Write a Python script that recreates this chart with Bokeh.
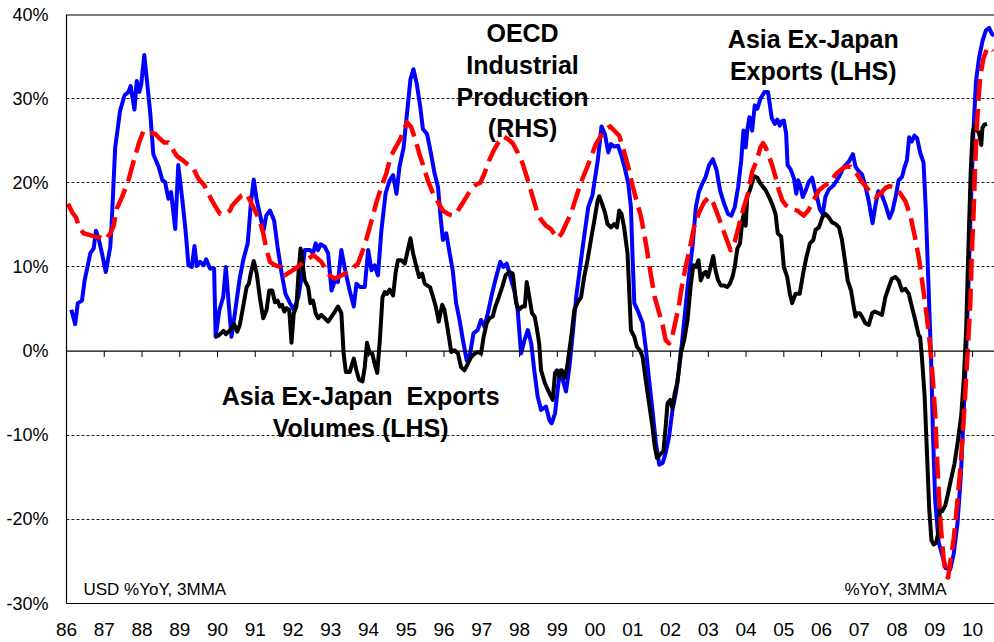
from bokeh.plotting import figure
from bokeh.models import Span, Label, FixedTicker, Range1d
from bokeh.embed import file_html
from bokeh.resources import INLINE

# ---- data (decimal year, % YoY 3MMA) ----
exp_year = [1986.13, 1986.23, 1986.30, 1986.41, 1986.48, 1986.63, 1986.72, 1986.78, 1986.85, 1986.94,
            1987.04, 1987.16, 1987.20, 1987.29, 1987.42, 1987.54, 1987.64, 1987.70, 1987.80, 1987.86,
            1987.93, 1987.98, 1988.06, 1988.15, 1988.22, 1988.30, 1988.44, 1988.54, 1988.61, 1988.70,
            1988.77, 1988.88, 1988.96, 1989.07, 1989.16, 1989.23, 1989.32, 1989.39, 1989.45, 1989.54,
            1989.63, 1989.70, 1989.80, 1989.91, 1989.95, 1990.05, 1990.15, 1990.22, 1990.29, 1990.37,
            1990.46, 1990.58, 1990.68, 1990.80, 1990.89, 1990.96, 1991.04, 1991.14, 1991.22, 1991.29,
            1991.39, 1991.50, 1991.59, 1991.70, 1991.80, 1991.92, 1992.02, 1992.14, 1992.24, 1992.31,
            1992.45, 1992.53, 1992.60, 1992.66, 1992.73, 1992.84, 1992.93, 1993.02, 1993.11, 1993.19,
            1993.28, 1993.40, 1993.50, 1993.61, 1993.68, 1993.78, 1993.90, 1993.99, 1994.08, 1994.16,
            1994.25, 1994.34, 1994.45, 1994.56, 1994.65, 1994.74, 1994.82, 1994.93, 1995.00, 1995.11,
            1995.19, 1995.28, 1995.37, 1995.44, 1995.55, 1995.64, 1995.75, 1995.84, 1995.90, 1995.97,
            1996.06, 1996.15, 1996.23, 1996.32, 1996.41, 1996.50, 1996.60, 1996.69, 1996.78, 1996.89,
            1996.98, 1997.07, 1997.16, 1997.27, 1997.38, 1997.49, 1997.57, 1997.66, 1997.78, 1997.86,
            1997.95, 1998.04, 1998.13, 1998.22, 1998.31, 1998.39, 1998.48, 1998.57, 1998.70, 1998.79,
            1998.85, 1998.94, 1999.01, 1999.07, 1999.14, 1999.23, 1999.32, 1999.41, 1999.50, 1999.58,
            1999.71, 1999.82, 1999.93, 2000.07, 2000.17, 2000.26, 2000.35, 2000.42, 2000.51, 2000.61,
            2000.70, 2000.79, 2000.88, 2000.95, 2000.99, 2001.04, 2001.14, 2001.26, 2001.35, 2001.43,
            2001.52, 2001.61, 2001.70, 2001.79, 2001.87, 2001.96, 2002.05, 2002.14, 2002.23, 2002.31,
            2002.45, 2002.58, 2002.67, 2002.75, 2002.84, 2002.93, 2003.02, 2003.12, 2003.22, 2003.31,
            2003.42, 2003.52, 2003.61, 2003.70, 2003.79, 2003.87, 2003.93, 2003.99, 2004.03, 2004.09,
            2004.16, 2004.23, 2004.30, 2004.38, 2004.49, 2004.58, 2004.68, 2004.76, 2004.83, 2004.89,
            2004.94, 2005.00, 2005.06, 2005.10, 2005.18, 2005.27, 2005.33, 2005.38, 2005.44, 2005.50,
            2005.57, 2005.66, 2005.75, 2005.82, 2005.88, 2005.95, 2006.03, 2006.10, 2006.19, 2006.32,
            2006.46, 2006.59, 2006.72, 2006.83, 2006.90, 2006.98, 2007.07, 2007.16, 2007.25, 2007.35,
            2007.43, 2007.50, 2007.58, 2007.69, 2007.80, 2007.88, 2007.97, 2008.04, 2008.13, 2008.20,
            2008.26, 2008.32, 2008.39, 2008.46, 2008.53, 2008.61, 2008.70, 2008.76, 2008.83, 2008.90,
            2008.95, 2009.01, 2009.10, 2009.21, 2009.29, 2009.41, 2009.50, 2009.60, 2009.69, 2009.76,
            2009.83, 2009.89, 2009.95, 2010.02, 2010.09, 2010.17, 2010.26, 2010.35, 2010.44, 2010.51,
            2010.57]
exp_val = [4.9, 3.2, 5.7, 6.0, 8.4, 11.6, 12.2, 14.3, 13.4, 11.6,
           9.4, 12.4, 15.5, 24.2, 28.6, 30.4, 30.8, 31.5, 28.7, 32.1,
           30.8, 31.7, 35.2, 31.3, 28.2, 23.4, 21.9, 20.3, 20.1, 18.1,
           18.9, 14.5, 22.1, 17.9, 14.0, 10.2, 10.0, 12.5, 10.1, 10.6,
           10.2, 10.9, 9.8, 9.8, 1.7, 4.9, 6.4, 10.0, 6.0, 1.7,
           4.5, 8.4, 10.8, 12.8, 17.9, 20.4, 17.9, 15.9, 14.3, 16.1,
           16.7, 15.5, 12.4, 9.2, 6.8, 5.7, 4.9, 6.4, 9.2, 12.0,
           12.0, 11.6, 12.8, 12.0, 12.7, 12.4, 11.6, 7.2, 8.4, 8.2,
           12.0, 9.2, 7.2, 5.3, 8.0, 7.6, 7.6, 12.0, 9.6, 10.2,
           9.0, 14.3, 18.7, 20.3, 20.9, 18.7, 21.9, 24.2, 27.4, 32.3,
           33.5, 31.7, 29.0, 26.4, 25.8, 23.8, 21.1, 19.5, 16.3, 13.2,
           14.0, 11.6, 9.6, 5.7, 3.7, 1.3, -1.1, -0.3, 2.1, 2.5,
           3.7, 2.9, 4.5, 6.8, 8.8, 10.6, 10.0, 10.4, 8.4, 7.2,
           4.9, -0.3, 1.3, 2.5, 0.9, -2.3, -5.4, -7.0, -6.6, -8.2,
           -8.6, -7.4, -4.6, -2.3, -3.4, -4.8, -1.9, 2.1, 6.4, 9.2,
           13.6, 17.1, 18.5, 22.6, 26.7, 25.8, 23.6, 24.6, 24.3, 24.4,
           23.2, 21.7, 19.9, 17.1, 11.6, 5.7, 4.7, 3.3, 0.1, -3.4,
           -7.0, -10.9, -13.5, -13.3, -12.1, -10.2, -7.0, -5.0, -1.9, 1.3,
           7.6, 12.4, 17.1, 18.9, 19.9, 20.7, 22.1, 22.8, 21.5, 19.1,
           17.5, 16.3, 16.1, 17.1, 19.5, 22.6, 26.2, 24.2, 26.2, 27.8,
           26.2, 29.2, 28.8, 30.0, 30.8, 30.8, 27.7, 27.0, 27.5, 26.8,
           27.3, 27.4, 25.9, 22.1, 21.6, 20.5, 18.7, 20.3, 19.6, 18.3,
           19.0, 20.1, 20.6, 19.2, 18.3, 16.9, 16.3, 18.3, 19.2, 19.7,
           20.7, 21.9, 22.5, 23.4, 21.9, 21.4, 21.0, 19.6, 17.8, 15.2,
           17.4, 19.0, 18.7, 17.4, 15.8, 16.7, 18.5, 20.3, 20.7, 21.9,
           22.7, 25.4, 24.9, 25.6, 25.3, 23.6, 22.4, 16.9, 8.0, -0.9,
           -9.8, -17.8, -22.7, -24.5, -25.8, -25.9, -24.1, -20.5, -14.7, -7.6,
           0.0, 8.0, 16.9, 25.9, 32.1, 34.8, 36.8, 38.1, 38.4, 37.7,
           37.5]

vol_year = [1989.93, 1990.02, 1990.09, 1990.16, 1990.22, 1990.29, 1990.37, 1990.44, 1990.52, 1990.59,
            1990.68, 1990.77, 1990.83, 1990.88, 1990.96, 1991.04, 1991.12, 1991.21, 1991.30, 1991.37,
            1991.45, 1991.52, 1991.59, 1991.65, 1991.71, 1991.77, 1991.83, 1991.90, 1991.96, 1992.02,
            1992.09, 1992.15, 1992.20, 1992.31, 1992.40, 1992.46, 1992.53, 1992.60, 1992.67, 1992.75,
            1992.84, 1992.93, 1993.02, 1993.11, 1993.19, 1993.28, 1993.34, 1993.40, 1993.50, 1993.61,
            1993.68, 1993.75, 1993.84, 1993.90, 1993.96, 1994.03, 1994.10, 1994.16, 1994.23, 1994.30,
            1994.37, 1994.43, 1994.49, 1994.56, 1994.65, 1994.72, 1994.78, 1994.87, 1994.96, 1995.02,
            1995.11, 1995.18, 1995.27, 1995.34, 1995.42, 1995.49, 1995.55, 1995.63, 1995.71, 1995.78,
            1995.86, 1995.95, 1996.01, 1996.10, 1996.19, 1996.28, 1996.37, 1996.45, 1996.54, 1996.63,
            1996.72, 1996.81, 1996.90, 1996.98, 1997.05, 1997.13, 1997.20, 1997.29, 1997.36, 1997.45,
            1997.54, 1997.63, 1997.73, 1997.82, 1997.91, 1997.98, 1998.07, 1998.14, 1998.19, 1998.26,
            1998.33, 1998.40, 1998.45, 1998.52, 1998.57, 1998.67, 1998.79, 1998.88, 1998.94, 1998.99,
            1999.05, 1999.12, 1999.19, 1999.26, 1999.32, 1999.38, 1999.45, 1999.54, 1999.63, 1999.71,
            1999.80, 1999.89, 1999.98, 2000.07, 2000.11, 2000.17, 2000.26, 2000.33, 2000.42, 2000.51,
            2000.58, 2000.64, 2000.70, 2000.77, 2000.86, 2000.90, 2000.95, 2001.04, 2001.11, 2001.19,
            2001.26, 2001.34, 2001.43, 2001.52, 2001.58, 2001.64, 2001.72, 2001.81, 2001.87, 2001.92,
            2001.99, 2002.05, 2002.11, 2002.18, 2002.27, 2002.36, 2002.45, 2002.53, 2002.60, 2002.67,
            2002.74, 2002.80, 2002.87, 2002.93, 2002.99, 2003.06, 2003.13, 2003.19, 2003.26, 2003.33,
            2003.42, 2003.50, 2003.57, 2003.64, 2003.70, 2003.77, 2003.84, 2003.90, 2003.94, 2003.99,
            2004.03, 2004.10, 2004.21, 2004.30, 2004.38, 2004.52, 2004.61, 2004.69, 2004.78, 2004.84,
            2004.93, 2005.00, 2005.09, 2005.16, 2005.22, 2005.31, 2005.42, 2005.51, 2005.60, 2005.69,
            2005.78, 2005.84, 2005.93, 2006.02, 2006.10, 2006.19, 2006.28, 2006.37, 2006.46, 2006.54,
            2006.63, 2006.69, 2006.78, 2006.85, 2006.90, 2006.94, 2007.01, 2007.07, 2007.16, 2007.25,
            2007.34, 2007.41, 2007.51, 2007.60, 2007.69, 2007.78, 2007.86, 2007.95, 2008.04, 2008.13,
            2008.22, 2008.31, 2008.39, 2008.48, 2008.57, 2008.61, 2008.66, 2008.73, 2008.79, 2008.85,
            2008.91, 2008.97, 2009.03, 2009.10, 2009.14, 2009.20, 2009.28, 2009.35, 2009.43, 2009.52,
            2009.61, 2009.70, 2009.77, 2009.83, 2009.89, 2009.95, 2010.00, 2010.05, 2010.11, 2010.17,
            2010.23, 2010.26, 2010.31, 2010.38]
vol_val = [1.7, 1.8, 2.1, 2.4, 2.0, 2.3, 2.7, 3.2, 2.3, 3.1,
           5.3, 7.6, 8.0, 9.2, 10.7, 9.2, 6.4, 3.9, 4.9, 7.2,
           7.2, 5.8, 6.0, 5.3, 5.5, 4.7, 5.1, 4.9, 1.0, 4.5,
           5.3, 9.6, 12.2, 8.4, 7.6, 5.7, 6.0, 4.5, 3.9, 4.3,
           3.9, 3.5, 4.1, 4.7, 5.3, 4.5, -0.3, -2.5, -2.5, -0.9,
           -2.3, -3.4, -3.6, -1.9, 1.0, -0.3, -0.3, -1.5, -2.6, 1.3,
           6.4, 7.0, 6.8, 7.3, 6.6, 9.4, 10.8, 10.8, 10.4, 11.6,
           13.4, 11.6, 10.0, 8.8, 9.2, 8.0, 7.8, 7.6, 6.4, 5.3,
           3.5, 5.5, 4.9, 2.5, -0.1, 0.1, -0.3, -1.9, -2.3, -1.5,
           -0.7, -0.3, -0.1, -0.3, 1.7, 3.3, 3.9, 4.1, 5.3, 6.4,
           7.6, 9.0, 9.4, 9.2, 5.7, 4.9, 5.3, 5.3, 8.2, 6.4,
           4.5, 4.1, 2.9, 0.9, -2.3, -3.8, -5.0, -5.8, -2.6, -2.3,
           -3.0, -2.3, -3.2, -1.9, 0.1, 2.1, 4.9, 5.8, 6.4, 8.8,
           10.8, 13.2, 15.5, 17.9, 18.4, 17.7, 16.5, 15.1, 14.7, 15.1,
           14.7, 16.7, 16.3, 14.7, 11.6, 7.6, 2.5, 1.7, 0.5, 0.1,
           -0.7, -3.4, -6.2, -9.0, -11.3, -12.7, -12.3, -11.9, -9.0, -6.2,
           -5.8, -6.8, -5.0, -3.8, -0.3, 1.3, 3.7, 7.6, 10.2, 10.0,
           10.8, 8.4, 9.2, 9.4, 8.8, 10.0, 11.3, 9.6, 8.4, 7.8,
           7.8, 7.6, 8.0, 8.8, 10.0, 12.2, 12.8, 15.5, 16.3, 14.9,
           18.3, 19.1, 20.8, 20.6, 19.9, 19.1, 18.3, 17.5, 16.3, 14.0,
           13.6, 10.0, 8.8, 6.8, 5.7, 6.8, 6.8, 9.2, 11.2, 12.8,
           13.2, 14.4, 14.7, 15.9, 16.3, 15.9, 15.3, 15.1, 14.7, 13.2,
           10.4, 8.4, 7.2, 5.3, 4.1, 4.5, 4.5, 4.1, 3.3, 3.1,
           4.5, 4.7, 4.5, 4.3, 6.4, 7.6, 8.6, 8.8, 8.4, 7.2,
           7.4, 6.8, 5.3, 3.7, 1.9, 1.7, -0.9, -5.4, -12.0, -18.7,
           -22.5, -23.0, -22.8, -21.4, -18.7, -19.0, -18.3, -16.9, -15.2, -13.4,
           -10.7, -7.6, -3.1, 2.7, 12.5, 21.4, 25.9, 26.8, 26.3, 25.9,
           24.5, 26.5, 26.9, 27.0]

oecd_year = [1986.04, 1986.15, 1986.25, 1986.34, 1986.45, 1986.76, 1986.89, 1987.03, 1987.16, 1987.25,
             1987.33, 1987.47, 1987.64, 1987.78, 1987.91, 1988.04, 1988.19, 1988.35, 1988.48, 1988.59,
             1988.70, 1988.81, 1988.92, 1989.10, 1989.23, 1989.36, 1989.49, 1989.65, 1989.85, 1989.98,
             1990.07, 1990.20, 1990.33, 1990.39, 1990.64, 1990.77, 1990.86, 1990.99, 1991.12, 1991.21,
             1991.30, 1991.39, 1991.52, 1991.65, 1991.78, 1992.06, 1992.23, 1992.54, 1992.75, 1992.97,
             1993.11, 1993.46, 1993.72, 1993.90, 1994.08, 1994.21, 1994.34, 1994.47, 1994.58, 1994.69,
             1994.82, 1994.93, 1995.02, 1995.13, 1995.25, 1995.35, 1995.46, 1995.57, 1995.71, 1995.84,
             1995.97, 1996.10, 1996.23, 1996.34, 1996.45, 1996.59, 1996.72, 1996.85, 1996.96, 1997.07,
             1997.19, 1997.31, 1997.44, 1997.57, 1997.69, 1997.82, 1997.95, 1998.08, 1998.22, 1998.35,
             1998.48, 1998.57, 1998.70, 1998.83, 1998.94, 1999.01, 1999.12, 1999.23, 1999.36, 1999.50,
             1999.63, 1999.76, 1999.89, 2000.02, 2000.16, 2000.29, 2000.40, 2000.53, 2000.64, 2000.75,
             2000.88, 2000.99, 2001.11, 2001.21, 2001.30, 2001.39, 2001.48, 2001.58, 2001.70, 2001.79,
             2001.87, 2001.96, 2002.05, 2002.14, 2002.23, 2002.31, 2002.40, 2002.52, 2002.62, 2002.75,
             2002.89, 2003.02, 2003.13, 2003.24, 2003.37, 2003.49, 2003.59, 2003.70, 2003.81, 2003.94,
             2004.05, 2004.16, 2004.28, 2004.38, 2004.45, 2004.52, 2004.61, 2004.69, 2004.78, 2004.87,
             2004.96, 2005.06, 2005.18, 2005.35, 2005.53, 2005.66, 2005.81, 2005.93, 2006.06, 2006.24,
             2006.37, 2006.50, 2006.63, 2006.77, 2006.83, 2006.94, 2007.07, 2007.20, 2007.32, 2007.43,
             2007.56, 2007.69, 2007.80, 2007.95, 2008.09, 2008.22, 2008.35, 2008.48, 2008.59, 2008.70,
             2008.79, 2008.88, 2008.95, 2009.01, 2009.05, 2009.10, 2009.16, 2009.23, 2009.29, 2009.35,
             2009.41, 2009.50, 2009.58, 2009.67, 2009.74, 2009.80, 2009.87, 2009.94, 2009.98, 2010.03,
             2010.07, 2010.13, 2010.20, 2010.29, 2010.38, 2010.46, 2010.55]
oecd_val = [17.5, 16.5, 15.9, 14.7, 14.0, 13.6, 13.5, 13.2, 14.0, 14.9,
            16.9, 18.3, 20.3, 22.6, 24.6, 26.2, 26.0, 25.8, 25.2, 24.8,
            24.8, 24.0, 23.2, 22.6, 22.1, 21.7, 20.5, 19.7, 17.9, 16.9,
            16.3, 16.3, 16.7, 17.3, 18.5, 18.7, 17.9, 16.7, 15.5, 14.0,
            12.0, 10.6, 10.2, 10.0, 9.0, 9.8, 10.4, 11.4, 10.6, 9.0,
            8.6, 9.4, 10.4, 12.6, 15.5, 17.7, 19.5, 21.1, 23.0, 24.0,
            25.0, 26.2, 27.2, 26.6, 25.0, 23.4, 21.9, 20.3, 18.7, 17.7,
            16.7, 16.3, 16.1, 16.5, 17.3, 18.3, 19.3, 19.8, 20.0, 21.1,
            22.6, 23.8, 24.8, 25.5, 25.2, 24.7, 23.6, 22.3, 20.3, 18.3,
            16.3, 15.6, 14.9, 14.5, 13.8, 13.4, 14.0, 15.1, 16.3, 18.3,
            20.1, 21.5, 23.0, 24.6, 25.6, 26.4, 26.7, 26.1, 25.6, 24.0,
            21.9, 19.7, 17.7, 16.1, 14.0, 11.6, 9.0, 6.4, 4.5, 3.1,
            1.3, 0.9, 1.9, 3.7, 5.7, 8.0, 10.0, 12.4, 14.7, 16.4,
            17.7, 18.3, 17.6, 16.3, 14.7, 13.2, 12.0, 13.0, 14.9, 17.1,
            18.7, 21.3, 22.6, 24.2, 24.7, 24.2, 23.1, 22.1, 20.7, 19.1,
            17.9, 17.3, 16.9, 16.7, 16.1, 16.8, 18.1, 19.1, 19.6, 20.1,
            21.0, 21.5, 21.9, 21.9, 21.6, 21.0, 20.1, 19.4, 18.7, 18.3,
            18.7, 19.4, 19.6, 19.4, 18.7, 17.8, 16.1, 13.4, 10.7, 7.1,
            4.0, 0.4, -3.6, -7.6, -12.0, -16.5, -21.0, -24.5, -26.7, -26.9,
            -25.0, -22.3, -18.7, -14.3, -9.8, -5.4, 0.0, 5.8, 11.6, 16.9,
            22.3, 28.1, 32.6, 34.8, 35.9, 36.1, 35.7]

x_ticks = list(range(1986, 2011))
x_tick_labels = ["86", "87", "88", "89", "90", "91", "92", "93", "94", "95", "96", "97", "98",
                 "99", "00", "01", "02", "03", "04", "05", "06", "07", "08", "09", "10"]
y_ticks = [-30, -20, -10, 0, 10, 20, 30, 40]
y_tick_labels = ["-30%", "-20%", "-10%", "0%", "10%", "20%", "30%", "40%"]

FONT = "Liberation Sans"

p = figure(width=994, height=642, output_backend="svg", toolbar_location=None,
           x_range=Range1d(1986.0, 2010.58), y_range=Range1d(-30, 40),
           min_border_left=66, min_border_right=0, min_border_top=14, min_border_bottom=39)
p.outline_line_color = None
p.background_fill_color = "white"
p.border_fill_color = "white"

# grid
p.xgrid.visible = False
p.ygrid.ticker = FixedTicker(ticks=[t for t in y_ticks if t not in (0, 40, -30)])
p.ygrid.grid_line_color = "#222222"
p.ygrid.grid_line_dash = "3 2"
p.ygrid.grid_line_width = 1

# axes
p.yaxis.ticker = FixedTicker(ticks=y_ticks)
p.yaxis.major_label_overrides = {t: s for t, s in zip(y_ticks, y_tick_labels)}
p.yaxis.major_tick_out = 0
p.yaxis.major_tick_in = 0
p.yaxis.minor_tick_out = 0
p.yaxis.minor_tick_in = 0
p.yaxis.major_label_standoff = 18
p.yaxis.axis_line_color = "black"
p.yaxis.axis_line_width = 1.2
p.yaxis.major_label_text_font = FONT
p.yaxis.major_label_text_font_size = "18px"
p.yaxis.major_label_text_color = "black"

p.xaxis.ticker = FixedTicker(ticks=x_ticks)
p.xaxis.major_label_overrides = {t: s for t, s in zip(x_ticks, x_tick_labels)}
p.xaxis.major_tick_out = 0
p.xaxis.major_tick_in = 0
p.xaxis.minor_tick_out = 0
p.xaxis.minor_tick_in = 0
p.xaxis.major_label_standoff = 19
p.xaxis.axis_line_color = "black"
p.xaxis.axis_line_width = 1.2
p.xaxis.major_label_text_font = FONT
p.xaxis.major_label_text_font_size = "19px"
p.xaxis.major_label_text_color = "black"

# zero line, top line and tick marks on the zero line
p.add_layout(Span(location=0, dimension="width", line_color="black", line_width=1.2))
p.add_layout(Span(location=y_ticks[-1], dimension="width", line_color="black", line_width=2))
p.segment(x0=x_ticks[1:], y0=[0] * (len(x_ticks) - 1), x1=x_ticks[1:], y1=[-0.7] * (len(x_ticks) - 1),
          line_color="black", line_width=1)

# series
p.line(exp_year, exp_val, line_color="#0000FF", line_width=4, line_join="round")
p.line(vol_year, vol_val, line_color="black", line_width=4, line_join="round")
p.line(oecd_year, oecd_val, line_color="#FF0000", line_width=4.5, line_dash="22 8", line_join="round")

# annotations
def add_label(x, y, text, size, bold=True, align="center", baseline="top", lh=1.14):
    p.add_layout(Label(x=x, y=y, text=text, text_align=align, text_baseline=baseline,
                       text_font=FONT, text_font_size=size,
                       text_font_style="bold" if bold else "normal",
                       text_color="black", text_line_height=lh))

add_label(1998.08, 39.5, "OECD\nIndustrial\nProduction\n(RHS)", "25px")
add_label(2005.78, 38.7, "Asia Ex-Japan\nExports (LHS)", "25px")
add_label(1993.79, -3.7, "Asia Ex-Japan\u00a0 Exports\nVolumes (LHS)", "25px")
add_label(1986.45, -28.35, "USD %YoY, 3MMA", "17px", bold=False, align="left", baseline="alphabetic")
add_label(2009.31, -28.35, "%YoY, 3MMA", "17px", bold=False, align="right", baseline="alphabetic")

open("out.html", "w").write(file_html(p, INLINE))
